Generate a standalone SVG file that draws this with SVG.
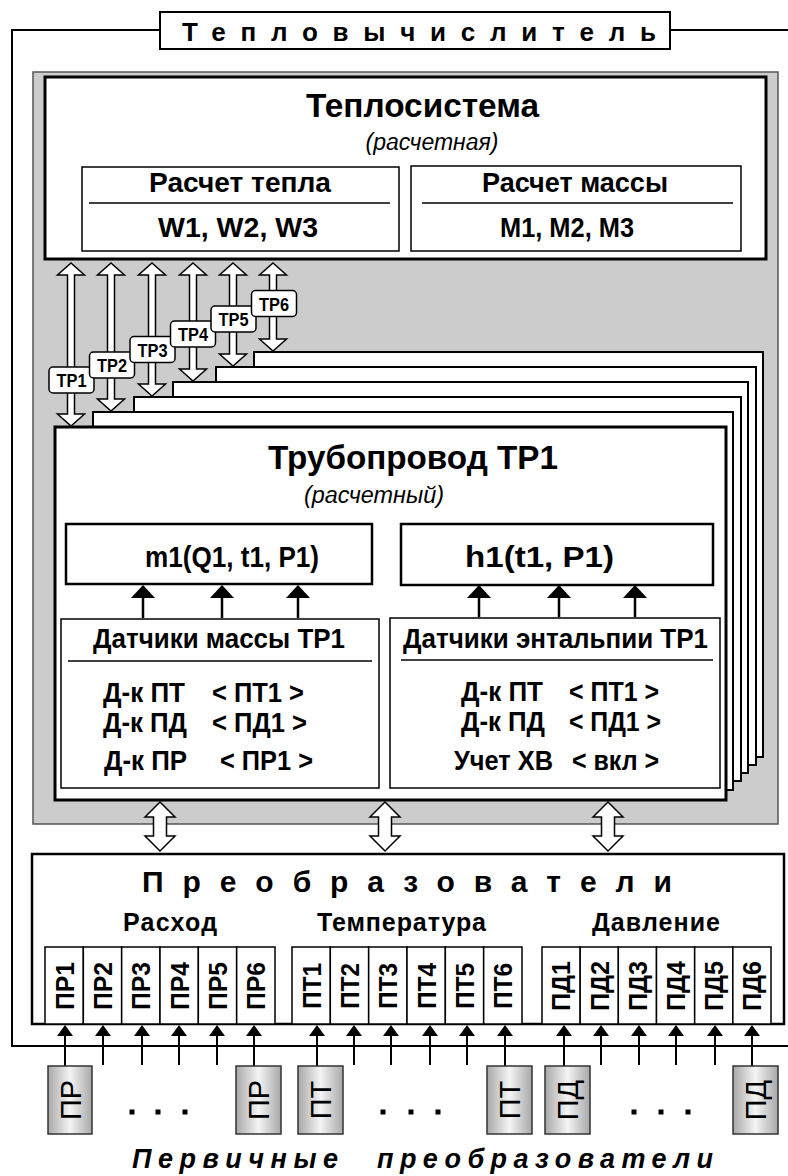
<svg xmlns="http://www.w3.org/2000/svg" xmlns:xlink="http://www.w3.org/1999/xlink" width="788" height="1176" viewBox="0 0 788 1176">
<style>
text{font-family:"Liberation Sans",Arial,sans-serif;fill:#000}
.bd{font-weight:bold}
.it{font-style:italic}
.box{fill:#fff;stroke:#000}
.thin{stroke-width:1.5}
.med{stroke-width:2}
.thick{stroke-width:3}
.ln{stroke:#000;fill:none}
.dbl{fill:#fff;stroke:#000;stroke-width:1.5;stroke-linejoin:miter}
.t28{font-size:28px}
.t27{font-size:27px}
.t25{font-size:25px}
.mid{text-anchor:middle}
.cell{fill:#fff;stroke:#000;stroke-width:1.5}
.prim{fill:url(#gr);stroke:#333;stroke-width:1.5}
.dot{fill:#000}
.lbl{font-size:19px;font-weight:bold}
.ct{font-size:26px;font-weight:bold;text-anchor:middle}
.pt{font-size:29px;text-anchor:middle}
</style>
<defs>
<linearGradient id="gr" x1="0" y1="0" x2="1" y2="0">
<stop offset="0" stop-color="#a8a8a8"/>
<stop offset="0.5" stop-color="#f4f4f4"/>
<stop offset="1" stop-color="#a8a8a8"/>
</linearGradient>
<marker id="ahBig" markerUnits="userSpaceOnUse" viewBox="0 0 13 24" markerWidth="13" markerHeight="24" refX="0" refY="12" orient="auto">
<path d="M0,0 L13,12 L0,24 Z" fill="#000"/>
</marker>
<marker id="ahSm" markerUnits="userSpaceOnUse" viewBox="0 0 11 16" markerWidth="11" markerHeight="16" refX="0" refY="8" orient="auto">
<path d="M0,0 L11,8 L0,16 Z" fill="#000"/>
</marker>
<path id="dblArrow" d="M0,0 L15,15 L6.5,15 L6.5,34 L15,34 L0,49 L-15,34 L-6.5,34 L-6.5,15 L-15,15 Z"/>
</defs>

<rect width="788" height="1176" fill="#fff"/>

<g id="teplovychislitel">
<path class="ln med" d="M160,30 H12 V1046 H788 M670,30 H788"/>
<rect class="box med" x="160" y="12" width="510" height="37"/>
<text class="bd" font-size="26" x="182" y="41" textLength="474" lengthAdjust="spacing">Тепловычислитель</text>
</g>

<g id="panel">
<rect x="33" y="72" width="745" height="752" fill="#cccccc" stroke="#555" stroke-width="1.5"/>
</g>

<g id="teplosistema">
<rect class="box thick" x="45" y="77" width="721" height="182"/>
<text class="bd" font-size="33" x="306" y="117" textLength="233" lengthAdjust="spacingAndGlyphs">Теплосистема</text>
<text class="it mid" font-size="23" x="432" y="150">(расчетная)</text>
<g id="raschet-tepla">
<rect class="box thin" x="82" y="167" width="317" height="84"/>
<line class="ln thin" x1="89" y1="203" x2="390" y2="203"/>
<text class="bd t28 mid" x="240" y="192" textLength="182" lengthAdjust="spacingAndGlyphs">Расчет тепла</text>
<text class="bd t28 mid" x="238" y="237" textLength="160" lengthAdjust="spacingAndGlyphs">W1, W2, W3</text>
</g>
<g id="raschet-massy">
<rect class="box thin" x="411" y="166" width="330" height="85"/>
<line class="ln thin" x1="422" y1="203" x2="733" y2="203"/>
<text class="bd t28 mid" x="575" y="192" textLength="186" lengthAdjust="spacingAndGlyphs">Расчет массы</text>
<text class="bd t28 mid" x="567" y="237" textLength="134" lengthAdjust="spacingAndGlyphs">M1, M2, M3</text>
</g>
</g>

<g id="truboprovody-stack">
<rect class="box med" x="254" y="352" width="509" height="405"/>
<rect class="box med" x="216" y="367" width="540" height="398"/>
<rect class="box med" x="173" y="382" width="575" height="391"/>
<rect class="box med" x="134" y="397" width="607" height="384"/>
<rect class="box med" x="93" y="412" width="640" height="378"/>
</g>

<g id="truboprovod-tr1">
<rect class="box thick" x="55" y="427" width="671" height="373"/>
<text class="bd" font-size="33" x="268" y="469" textLength="290" lengthAdjust="spacingAndGlyphs">Трубопровод ТР1</text>
<text class="it" font-size="23" x="304" y="503" textLength="140" lengthAdjust="spacingAndGlyphs">(расчетный)</text>
<g id="m1">
<rect class="box" stroke-width="2.5" x="66" y="524" width="306" height="60"/>
<text class="bd" font-size="30" x="145" y="567" textLength="174" lengthAdjust="spacingAndGlyphs">m1(Q1, t1, P1)</text>
</g>
<g id="h1">
<rect class="box" stroke-width="2.5" x="401" y="524" width="312" height="61"/>
<text class="bd" font-size="30" x="465" y="567" textLength="149" lengthAdjust="spacingAndGlyphs">h1(t1, P1)</text>
</g>
<g id="datchiki-massy">
<rect class="box thin" x="61" y="619" width="318" height="169"/>
<line class="ln thin" x1="68" y1="661" x2="372" y2="661"/>
<text class="bd t28" x="93" y="648" textLength="252" lengthAdjust="spacingAndGlyphs">Датчики массы ТР1</text>
<text class="bd t28" x="103" y="702" textLength="82" lengthAdjust="spacingAndGlyphs">Д-к ПТ</text>
<text class="bd t28" x="212" y="702" textLength="92" lengthAdjust="spacingAndGlyphs">&lt; ПТ1 &gt;</text>
<text class="bd t28" x="103" y="732" textLength="84" lengthAdjust="spacingAndGlyphs">Д-к ПД</text>
<text class="bd t28" x="212" y="732" textLength="95" lengthAdjust="spacingAndGlyphs">&lt; ПД1 &gt;</text>
<text class="bd t28" x="104" y="770" textLength="83" lengthAdjust="spacingAndGlyphs">Д-к ПР</text>
<text class="bd t28" x="220" y="770" textLength="93" lengthAdjust="spacingAndGlyphs">&lt; ПР1 &gt;</text>
</g>
<g id="datchiki-entalpii">
<rect class="box thin" x="390" y="618" width="330" height="170"/>
<line class="ln thin" x1="401" y1="660" x2="713" y2="660"/>
<text class="bd t28" x="403" y="648" textLength="305" lengthAdjust="spacingAndGlyphs">Датчики энтальпии ТР1</text>
<text class="bd t28" x="461" y="701" textLength="82" lengthAdjust="spacingAndGlyphs">Д-к ПТ</text>
<text class="bd t28" x="569" y="701" textLength="90" lengthAdjust="spacingAndGlyphs">&lt; ПТ1 &gt;</text>
<text class="bd t28" x="461" y="731" textLength="84" lengthAdjust="spacingAndGlyphs">Д-к ПД</text>
<text class="bd t28" x="569" y="731" textLength="92" lengthAdjust="spacingAndGlyphs">&lt; ПД1 &gt;</text>
<text class="bd t28" x="454" y="770" textLength="99" lengthAdjust="spacingAndGlyphs">Учет ХВ</text>
<text class="bd t28" x="572" y="770" textLength="87" lengthAdjust="spacingAndGlyphs">&lt; вкл &gt;</text>
</g>
</g>

<g id="preobrazovateli">
<rect class="box" stroke-width="2.5" x="32" y="854" width="752" height="170"/>
<text class="bd" font-size="30" x="142" y="892" textLength="530" lengthAdjust="spacing">Преобразователи</text>
<text class="bd t25" x="123" y="931" textLength="94" lengthAdjust="spacing">Расход</text>
<text class="bd t25" x="317" y="931" textLength="169" lengthAdjust="spacing">Температура</text>
<text class="bd t25" x="592" y="931" textLength="128" lengthAdjust="spacing">Давление</text>
<g id="cells-pr">
<rect class="cell" x="45" y="947" width="38.33" height="77"/>
<rect class="cell" x="83.33" y="947" width="38.33" height="77"/>
<rect class="cell" x="121.67" y="947" width="38.33" height="77"/>
<rect class="cell" x="160" y="947" width="38.33" height="77"/>
<rect class="cell" x="198.33" y="947" width="38.33" height="77"/>
<rect class="cell" x="236.67" y="947" width="38.33" height="77"/>
<text class="ct" transform="translate(64.2,986) rotate(-90)" y="9.3" textLength="48" lengthAdjust="spacingAndGlyphs">ПР1</text>
<text class="ct" transform="translate(102.5,986) rotate(-90)" y="9.3" textLength="48" lengthAdjust="spacingAndGlyphs">ПР2</text>
<text class="ct" transform="translate(140.8,986) rotate(-90)" y="9.3" textLength="48" lengthAdjust="spacingAndGlyphs">ПР3</text>
<text class="ct" transform="translate(179.2,986) rotate(-90)" y="9.3" textLength="48" lengthAdjust="spacingAndGlyphs">ПР4</text>
<text class="ct" transform="translate(217.5,986) rotate(-90)" y="9.3" textLength="48" lengthAdjust="spacingAndGlyphs">ПР5</text>
<text class="ct" transform="translate(255.8,986) rotate(-90)" y="9.3" textLength="48" lengthAdjust="spacingAndGlyphs">ПР6</text>
</g>
<g id="cells-pt">
<rect class="cell" x="292" y="947" width="38.33" height="77"/>
<rect class="cell" x="330.33" y="947" width="38.33" height="77"/>
<rect class="cell" x="368.67" y="947" width="38.33" height="77"/>
<rect class="cell" x="407" y="947" width="38.33" height="77"/>
<rect class="cell" x="445.33" y="947" width="38.33" height="77"/>
<rect class="cell" x="483.67" y="947" width="38.33" height="77"/>
<text class="ct" transform="translate(311.2,986) rotate(-90)" y="9.3" textLength="46" lengthAdjust="spacingAndGlyphs">ПТ1</text>
<text class="ct" transform="translate(349.5,986) rotate(-90)" y="9.3" textLength="46" lengthAdjust="spacingAndGlyphs">ПТ2</text>
<text class="ct" transform="translate(387.8,986) rotate(-90)" y="9.3" textLength="46" lengthAdjust="spacingAndGlyphs">ПТ3</text>
<text class="ct" transform="translate(426.2,986) rotate(-90)" y="9.3" textLength="46" lengthAdjust="spacingAndGlyphs">ПТ4</text>
<text class="ct" transform="translate(464.5,986) rotate(-90)" y="9.3" textLength="46" lengthAdjust="spacingAndGlyphs">ПТ5</text>
<text class="ct" transform="translate(502.8,986) rotate(-90)" y="9.3" textLength="46" lengthAdjust="spacingAndGlyphs">ПТ6</text>
</g>
<g id="cells-pd">
<rect class="cell" x="542" y="947" width="38.17" height="77"/>
<rect class="cell" x="580.17" y="947" width="38.17" height="77"/>
<rect class="cell" x="618.33" y="947" width="38.17" height="77"/>
<rect class="cell" x="656.5" y="947" width="38.17" height="77"/>
<rect class="cell" x="694.67" y="947" width="38.17" height="77"/>
<rect class="cell" x="732.83" y="947" width="38.17" height="77"/>
<text class="ct" transform="translate(561.1,986) rotate(-90)" y="9.3" textLength="50" lengthAdjust="spacingAndGlyphs">ПД1</text>
<text class="ct" transform="translate(599.3,986) rotate(-90)" y="9.3" textLength="50" lengthAdjust="spacingAndGlyphs">ПД2</text>
<text class="ct" transform="translate(637.4,986) rotate(-90)" y="9.3" textLength="50" lengthAdjust="spacingAndGlyphs">ПД3</text>
<text class="ct" transform="translate(675.6,986) rotate(-90)" y="9.3" textLength="50" lengthAdjust="spacingAndGlyphs">ПД4</text>
<text class="ct" transform="translate(713.8,986) rotate(-90)" y="9.3" textLength="50" lengthAdjust="spacingAndGlyphs">ПД5</text>
<text class="ct" transform="translate(752,986) rotate(-90)" y="9.3" textLength="50" lengthAdjust="spacingAndGlyphs">ПД6</text>
</g>
</g>

<g id="connectors">
<g id="tp-arrows" class="dbl">
<path d="M71,263 L84.5,275 L74.5,275 L74.5,414 L84.5,414 L71,426 L57.5,414 L67.5,414 L67.5,275 L57.5,275 Z"/>
<path d="M111,263 L124.5,275 L114.5,275 L114.5,399 L124.5,399 L111,411 L97.5,399 L107.5,399 L107.5,275 L97.5,275 Z"/>
<path d="M152,263 L165.5,275 L155.5,275 L155.5,384 L165.5,384 L152,396 L138.5,384 L148.5,384 L148.5,275 L138.5,275 Z"/>
<path d="M193,263 L206.5,275 L196.5,275 L196.5,369 L206.5,369 L193,381 L179.5,369 L189.5,369 L189.5,275 L179.5,275 Z"/>
<path d="M233,263 L246.5,275 L236.5,275 L236.5,354 L246.5,354 L233,366 L219.5,354 L229.5,354 L229.5,275 L219.5,275 Z"/>
<path d="M273,263 L286.5,275 L276.5,275 L276.5,339 L286.5,339 L273,351 L259.5,339 L269.5,339 L269.5,275 L259.5,275 Z"/>
</g>
<g id="tp-labels">
<rect class="box thin" x="49" y="367" width="45" height="26" rx="4"/>
<text class="lbl mid" x="71.5" y="387" textLength="30" lengthAdjust="spacingAndGlyphs">ТР1</text>
<rect class="box thin" x="89.5" y="352" width="45" height="26" rx="4"/>
<text class="lbl mid" x="112" y="372" textLength="30" lengthAdjust="spacingAndGlyphs">ТР2</text>
<rect class="box thin" x="130" y="336.5" width="45" height="26" rx="4"/>
<text class="lbl mid" x="152.5" y="356.5" textLength="30" lengthAdjust="spacingAndGlyphs">ТР3</text>
<rect class="box thin" x="170.5" y="321" width="45" height="26" rx="4"/>
<text class="lbl mid" x="193" y="341" textLength="30" lengthAdjust="spacingAndGlyphs">ТР4</text>
<rect class="box thin" x="211" y="306" width="45" height="26" rx="4"/>
<text class="lbl mid" x="233.5" y="326" textLength="30" lengthAdjust="spacingAndGlyphs">ТР5</text>
<rect class="box thin" x="251.5" y="290.5" width="45" height="26" rx="4"/>
<text class="lbl mid" x="274" y="310.5" textLength="30" lengthAdjust="spacingAndGlyphs">ТР6</text>
</g>
<g id="sensor-arrows" class="ln" stroke-width="2.5">
<line x1="143" y1="618" x2="143" y2="598" marker-end="url(#ahBig)"/>
<line x1="222" y1="618" x2="222" y2="598" marker-end="url(#ahBig)"/>
<line x1="298" y1="618" x2="298" y2="598" marker-end="url(#ahBig)"/>
<line x1="479" y1="617" x2="479" y2="598" marker-end="url(#ahBig)"/>
<line x1="559" y1="617" x2="559" y2="598" marker-end="url(#ahBig)"/>
<line x1="635" y1="617" x2="635" y2="598" marker-end="url(#ahBig)"/>
</g>
<g id="bus-arrows" class="dbl">
<use xlink:href="#dblArrow" x="160" y="802"/>
<use xlink:href="#dblArrow" x="385" y="802"/>
<use xlink:href="#dblArrow" x="608" y="802"/>
</g>
<g id="input-arrows" class="ln" stroke-width="2">
<line x1="65" y1="1066" x2="65" y2="1036" marker-end="url(#ahSm)"/>
<line x1="103" y1="1065" x2="103" y2="1036" marker-end="url(#ahSm)"/>
<line x1="142" y1="1065" x2="142" y2="1036" marker-end="url(#ahSm)"/>
<line x1="179" y1="1065" x2="179" y2="1036" marker-end="url(#ahSm)"/>
<line x1="217" y1="1065" x2="217" y2="1036" marker-end="url(#ahSm)"/>
<line x1="254" y1="1066" x2="254" y2="1036" marker-end="url(#ahSm)"/>
<line x1="317" y1="1066" x2="317" y2="1036" marker-end="url(#ahSm)"/>
<line x1="354" y1="1065" x2="354" y2="1036" marker-end="url(#ahSm)"/>
<line x1="391" y1="1065" x2="391" y2="1036" marker-end="url(#ahSm)"/>
<line x1="430" y1="1065" x2="430" y2="1036" marker-end="url(#ahSm)"/>
<line x1="467" y1="1065" x2="467" y2="1036" marker-end="url(#ahSm)"/>
<line x1="505" y1="1066" x2="505" y2="1036" marker-end="url(#ahSm)"/>
<line x1="564" y1="1066" x2="564" y2="1036" marker-end="url(#ahSm)"/>
<line x1="601" y1="1065" x2="601" y2="1036" marker-end="url(#ahSm)"/>
<line x1="639" y1="1065" x2="639" y2="1036" marker-end="url(#ahSm)"/>
<line x1="676" y1="1065" x2="676" y2="1036" marker-end="url(#ahSm)"/>
<line x1="715" y1="1065" x2="715" y2="1036" marker-end="url(#ahSm)"/>
<line x1="752" y1="1066" x2="752" y2="1036" marker-end="url(#ahSm)"/>
</g>
</g>

<g id="pervichnye">
<g id="pr-a"><rect class="prim" x="48" y="1066" width="44" height="68"/><text class="pt" transform="translate(70,1100) rotate(-90)" y="10.5">ПР</text></g>
<g id="pr-b"><rect class="prim" x="236" y="1066" width="45" height="68"/><text class="pt" transform="translate(258.5,1100) rotate(-90)" y="10.5">ПР</text></g>
<g id="pt-a"><rect class="prim" x="298" y="1066" width="45" height="68"/><text class="pt" transform="translate(320.5,1100) rotate(-90)" y="10.5">ПТ</text></g>
<g id="pt-b"><rect class="prim" x="487" y="1066" width="45" height="68"/><text class="pt" transform="translate(509.5,1100) rotate(-90)" y="10.5">ПТ</text></g>
<g id="pd-a"><rect class="prim" x="545" y="1066" width="45" height="68"/><text class="pt" transform="translate(567.5,1100) rotate(-90)" y="10.5">ПД</text></g>
<g id="pd-b"><rect class="prim" x="733" y="1066" width="45" height="68"/><text class="pt" transform="translate(755.5,1100) rotate(-90)" y="10.5">ПД</text></g>
<rect class="dot" x="129.5" y="1109.5" width="5" height="5"/>
<rect class="dot" x="155.5" y="1109.5" width="5" height="5"/>
<rect class="dot" x="182.5" y="1109.5" width="5" height="5"/>
<rect class="dot" x="380.5" y="1109.5" width="5" height="5"/>
<rect class="dot" x="408.5" y="1109.5" width="5" height="5"/>
<rect class="dot" x="435.5" y="1109.5" width="5" height="5"/>
<rect class="dot" x="631.5" y="1109.5" width="5" height="5"/>
<rect class="dot" x="658.5" y="1109.5" width="5" height="5"/>
<rect class="dot" x="685.5" y="1109.5" width="5" height="5"/>
<text class="bd it" font-size="27" x="132" y="1168" textLength="206" lengthAdjust="spacing">Первичные</text>
<text class="bd it" font-size="27" x="377" y="1168" textLength="336" lengthAdjust="spacing">преобразователи</text>
</g>
</svg>
